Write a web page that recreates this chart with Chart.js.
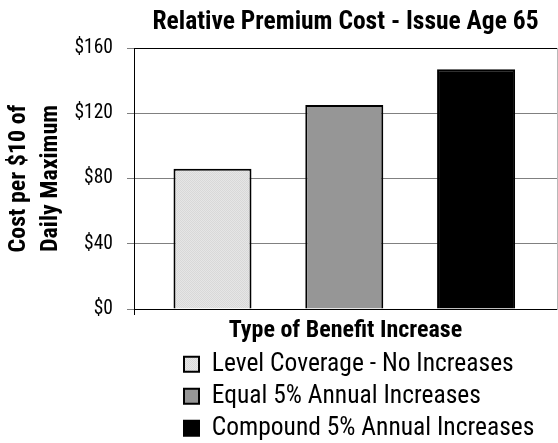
<!DOCTYPE html>
<html><head><meta charset="utf-8">
<script src="https://cdn.jsdelivr.net/npm/chart.js@4/dist/chart.umd.min.js"></script>
<style>html,body{margin:0;padding:0;background:#fff}#wrap{width:558px;height:443px}</style>
</head><body><div id="wrap"><canvas id="c" width="558" height="443"></canvas></div>
<script>
// ---- data ----
const chartTitle = 'Relative Premium Cost - Issue Age 65';
const seriesNames = ['Level Coverage - No Increases', 'Equal 5% Annual Increases', 'Compound 5% Annual Increases'];
const seriesValues = [86, 125, 147];
const seriesSlots = [0, 1, 2];
const yTickValues = [0, 40, 80, 120, 160];
const yTitle = ['Cost per $10 of', 'Daily Maximum'];
const xTitle = 'Type of Benefit Increase';

// ---- styles / layout ----
const FAM = "'Roboto Condensed', 'Open Sans', sans-serif";
const X_MIN = -0.5956, X_MAX = 2.614;
const canvas = document.getElementById('c');
const ctx = canvas.getContext('2d');
function dotPattern() {
  const p = document.createElement('canvas'); p.width = 2; p.height = 2;
  const g = p.getContext('2d');
  g.fillStyle = '#e6e6e6'; g.fillRect(0, 0, 2, 2);
  g.fillStyle = '#d8d8d8'; g.fillRect(0, 0, 1, 1); g.fillRect(1, 1, 1, 1);
  return ctx.createPattern(p, 'repeat');
}
const fills = [dotPattern(), '#969696', '#000000'];

Chart.defaults.color = '#000';

const legendShift = {
  id: 'legendShift',
  afterLayout(chart) {
    const L = chart.legend; if (!L) return;
    const dx = 177.5 - L.left; L.left += dx; L.right += dx;
  }
};

new Chart(ctx, {
  type: 'bar',
  data: {
    datasets: seriesNames.map((n, i) => ({
      label: n,
      data: [{ x: seriesSlots[i], y: seriesValues[i] }],
      backgroundColor: fills[i],
      borderColor: '#000',
      borderWidth: 2,
      grouped: false,
      categoryPercentage: 1,
      barPercentage: 0.592
    }))
  },
  options: {
    responsive: false,
    animation: false,
    layout: { padding: { left: 0, right: 1, top: 0, bottom: 0 } },
    plugins: {
      title: { display: true, text: chartTitle, fullSize: false, color: '#000',
        font: { family: FAM, size: 25.5, weight: 'bold', lineHeight: 1.2 },
        padding: { top: 7, bottom: 10.4 } },
      legend: { display: true, position: 'bottom', align: 'start', fullSize: false, maxHeight: 98,
        labels: { boxWidth: 15, boxHeight: 15, padding: 6.5, color: '#000',
          font: { family: FAM, size: 25.5 } } },
      tooltip: { enabled: false }
    },
    scales: {
      x: { type: 'linear', min: X_MIN, max: X_MAX, offset: false,
        afterBuildTicks(s) { s.ticks = [{ value: X_MIN }]; },
        ticks: { display: false },
        grid: { display: true, drawOnChartArea: false, drawTicks: true, tickLength: 6, color: '#000', offset: false },
        border: { display: true, color: '#000', width: 1 },
        title: { display: true, text: xTitle, color: '#000',
          font: { family: FAM, size: 24, weight: 'bold', lineHeight: 1.2 },
          padding: { top: 0, bottom: 0 } },
        afterFit(s) { s.height = 36; } },
      y: { min: 0, max: 160,
        afterBuildTicks(s) { s.ticks = yTickValues.map(v => ({ value: v })); },
        ticks: { callback: v => '$' + v, color: '#000', padding: 14,
          font: { family: FAM, size: 19.5 } },
        grid: { color: c => (c.tick && (c.tick.value === 160 || c.tick.value === 0)) ? '#000' : '#808080',
          tickColor: '#808080', tickLength: 7, lineWidth: 1 },
        border: { display: true, color: '#000', width: 1 },
        title: { display: true, text: yTitle, color: '#000',
          font: { family: FAM, size: 24, weight: 'bold', lineHeight: 1.333 },
          padding: { top: 3.5, bottom: 0 } },
        afterFit(s) { s.width = 134; } },
      y2: { position: 'right', display: true,
        ticks: { display: false },
        grid: { drawOnChartArea: false, drawTicks: false },
        border: { display: true, color: '#b8b8b8', width: 1 },
        afterFit(s) { s.width = 0; } }
    }
  },
  plugins: [legendShift]
});
</script></body></html>
